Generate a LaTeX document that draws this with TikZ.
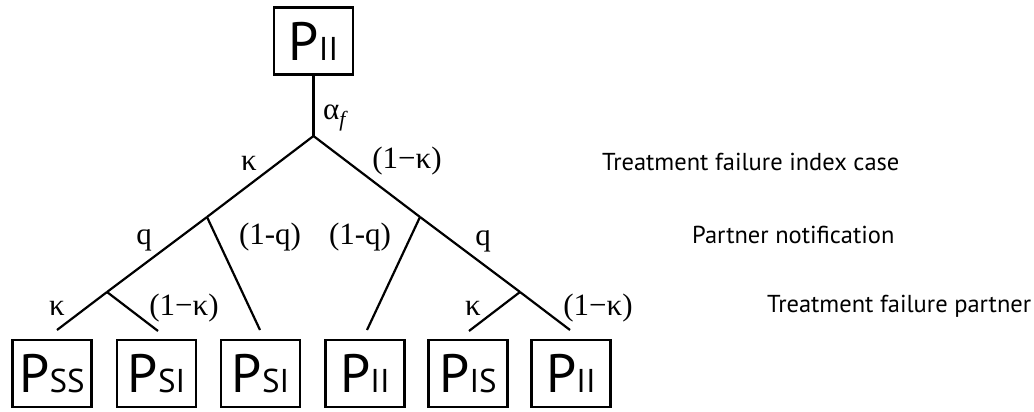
\documentclass[tikz,border=0pt]{standalone}
\usepackage{fontspec}
\setmainfont{Liberation Serif}
\newfontfamily\boxfont{PT Sans}
\pgfdeclarelayer{edgelayer}
\pgfdeclarelayer{nodelayer}
\pgfsetlayers{edgelayer,nodelayer,main}
\tikzstyle{none}=[inner sep=0pt]
\tikzstyle{State Box}=[draw=black, line width=2.2pt, shape=rectangle, minimum width=79pt, minimum height=67pt, inner sep=0pt, font=\boxfont\fontsize{54}{54}\selectfont]
\tikzstyle{Prob}=[inner sep=0pt, font=\fontsize{31}{31}\selectfont]
\tikzstyle{Level}=[inner sep=0pt, anchor=base west, font=\boxfont\fontsize{24.5}{24.5}\selectfont]
\tikzstyle{Branch}=[-, draw=black, line width=2.2pt]
\newcommand{\statesub}[1]{{\fontsize{33}{33}\selectfont #1}}

\begin{document}
\begin{tikzpicture}[x=1pt, y=-1pt]
	\useasboundingbox (0,0) rectangle (1034,412);
	\begin{pgfonlayer}{nodelayer}
		\node [style=State Box] (0) at (313.5, 41) {P\statesub{II}};
		\node [style=State Box] (1) at (52, 373.5) {P\statesub{SS}};
		\node [style=State Box] (2) at (156.5, 373.5) {P\statesub{SI}};
		\node [style=State Box] (3) at (260.5, 373.5) {P\statesub{SI}};
		\node [style=State Box] (4) at (365, 373.5) {P\statesub{II}};
		\node [style=State Box] (5) at (468, 373.5) {P\statesub{IS}};
		\node [style=State Box] (6) at (571, 373.5) {P\statesub{II}};
		\coordinate (10) at (313.5, 136);
		\coordinate (11) at (207, 217);
		\coordinate (12) at (420, 217);
		\coordinate (13) at (107, 292);
		\coordinate (14) at (520, 292);
		\coordinate (20) at (57, 330);
		\coordinate (21) at (158, 331);
		\coordinate (22) at (260, 330);
		\coordinate (23) at (367, 330);
		\coordinate (24) at (469, 331);
		\coordinate (25) at (570, 330);
		\node [style=none, anchor=base west, font=\fontsize{31}{31}\selectfont] (30) at (323, 120) {α\textsubscript{\textit{f}}};
		\node [style=Prob] (31) at (249, 163) {κ};
		\node [style=Prob] (32) at (407, 161) {(1−κ)};
		\node [style=Prob] (33) at (144, 240) {q};
		\node [style=Prob] (34) at (270, 237) {(1-q)};
		\node [style=Prob] (35) at (360, 237) {(1-q)};
		\node [style=Prob] (36) at (483, 241) {q};
		\node [style=Prob] (37) at (57, 308) {κ};
		\node [style=Prob] (38) at (184, 308) {(1−κ)};
		\node [style=Prob] (39) at (473, 308) {κ};
		\node [style=Prob] (40) at (598, 308) {(1−κ)};
		\node [style=Level] (41) at (602, 170) {Treatment failure index case};
		\node [style=Level] (42) at (692, 243) {Partner notification};
		\node [style=Level] (43) at (767, 312) {Treatment failure partner};
	\end{pgfonlayer}
	\begin{pgfonlayer}{edgelayer}
		\draw [style=Branch] (0) to (10);
		\draw [style=Branch] (10) to (11);
		\draw [style=Branch] (11) to (13);
		\draw [style=Branch] (13) to (20);
		\draw [style=Branch] (13) to (21);
		\draw [style=Branch] (11) to (22);
		\draw [style=Branch] (10) to (12);
		\draw [style=Branch] (12) to (23);
		\draw [style=Branch] (12) to (14);
		\draw [style=Branch] (14) to (24);
		\draw [style=Branch] (14) to (25);
	\end{pgfonlayer}
\end{tikzpicture}
\end{document}
